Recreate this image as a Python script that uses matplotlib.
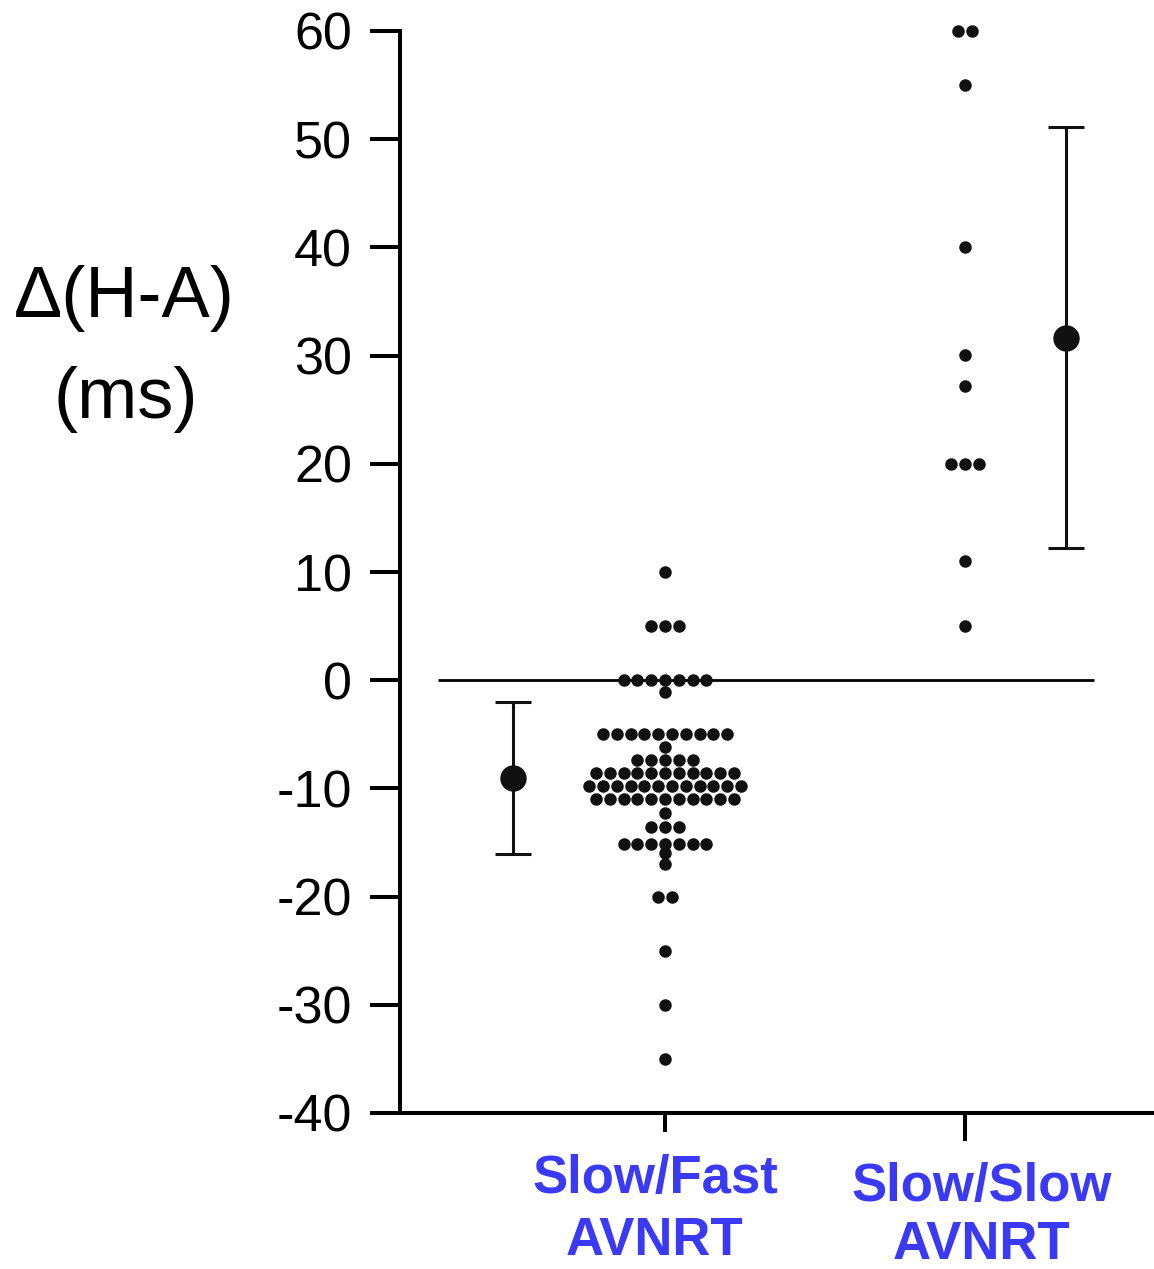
import numpy as np
import matplotlib
matplotlib.use("Agg")
import matplotlib.pyplot as plt

plt.rcParams['font.family'] = ['Liberation Sans', 'DejaVu Sans']

# ---- data ----
groups = ["Slow/Fast\nAVNRT", "Slow/Slow\nAVNRT"]
fast_levels = [10, 5, 0, -1.1, -5, -6.2, -7.4, -8.6, -9.8, -11, -12.3, -13.6,
               -15.1, -16, -17, -20, -25, -30, -35]
fast_counts = [1, 3, 7, 1, 10, 1, 5, 11, 12, 11, 1, 3, 7, 1, 1, 2, 1, 1, 1]
slow_levels = [60, 55, 40, 30.1, 27.2, 20, 11, 5]
slow_counts = [2, 1, 1, 1, 1, 3, 1, 1]
yticks = [60, 50, 40, 30, 20, 10, 0, -10, -20, -30, -40]

# ---- figure ----
W, H, DPI = 1154, 1269, 100
fig = plt.figure(figsize=(W / DPI, H / DPI), dpi=DPI)
ax = fig.add_axes([400 / W, (H - 1113) / H, 1 - 400 / W, (1113 - 31) / H])
ax.set_xlim(1 - 265 / 300, 2 + 189 / 300)
ax.set_ylim(-40, 60)

spacing = 13.8 / 300  # horizontal dot spacing in data units
dot_ms = 9
blue = '#3a3af5'


def swarm(center, levels, counts):
    xs, ys = [], []
    for lv, n in zip(levels, counts):
        offs = (np.arange(n) - (n - 1) / 2) * spacing
        xs.extend(center + offs)
        ys.extend([lv] * n)
    return np.array(xs), np.array(ys)


# zero reference line
ax.hlines(0, 1 - 227 / 300, 2 + 129 / 300, color='black', lw=2.0, zorder=1)

for gi, (levels, counts, moff) in enumerate(
        [(fast_levels, fast_counts, -152 / 300), (slow_levels, slow_counts, 101 / 300)]):
    c = gi + 1
    xs, ys = swarm(c, levels, counts)
    ax.plot(xs, ys, 'o', color='#111111', ms=dot_ms, mew=0, zorder=3, clip_on=False)
    vals = np.repeat(levels, counts)
    m = vals.mean()
    sd = vals.std(ddof=1)
    ax.errorbar([c + moff], [m], yerr=[sd], fmt='o', color='#111111', ms=18,
                elinewidth=2.2, capsize=13, capthick=2.2, zorder=3, clip_on=False)

# spines
for s in ['top', 'right']:
    ax.spines[s].set_visible(False)
for s in ['left', 'bottom']:
    ax.spines[s].set_linewidth(2.9)

ax.set_yticks(yticks)
ax.set_yticklabels([str(t) for t in yticks])
ax.tick_params(axis='y', length=21.6, width=2.9, pad=13, labelsize=37.5)

ax.set_xticks([1])
ax.set_xticklabels([''])
ax.set_xticks([2], minor=True)
ax.tick_params(axis='x', which='major', length=13.5, width=2.9)
ax.tick_params(axis='x', which='minor', length=20, width=2.9)

# category labels (two lines each)
label_offsets = [(-10, -80, -142), (17, -88, -146)]  # pixels: dx, baseline1, baseline2
for gi, (lab, (dx, b1, b2)) in enumerate(zip(groups, label_offsets)):
    l1, l2 = lab.split("\n")
    for txt, b in [(l1, b1), (l2, b2)]:
        ax.annotate(txt, xy=(gi + 1, 0), xycoords=('data', 'axes fraction'),
                    xytext=(dx * 0.72, b * 0.72), textcoords='offset points',
                    ha='center', va='baseline', fontsize=38, fontweight='bold',
                    color=blue, annotation_clip=False)

# y-axis label
fig.text(124 / W, 1 - 317 / H, "\u0394(H-A)", ha='center', va='baseline', fontsize=52)
fig.text(126 / W, 1 - 418 / H, "(ms)", ha='center', va='baseline', fontsize=52)

fig.savefig("out.png", dpi=DPI)
